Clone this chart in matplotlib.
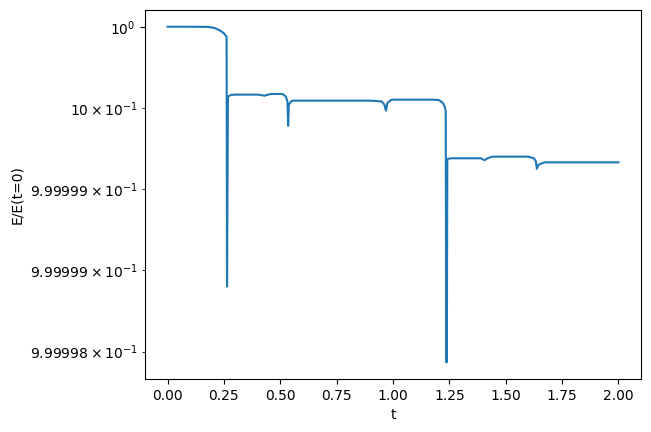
import numpy as np
import matplotlib
matplotlib.use("Agg")
import matplotlib.pyplot as plt

## energie relative
t = [0.00, 0.10, 0.18, 0.21, 0.235, 0.25, 0.258, 0.262, 0.264, 0.268,
     0.28, 0.30, 0.40, 0.42, 0.43, 0.44, 0.46, 0.51, 0.525, 0.532,
     0.535, 0.538, 0.55, 0.56, 0.90, 0.95, 0.962, 0.969, 0.975, 0.99,
     1.00, 1.18, 1.205, 1.222, 1.23, 1.234, 1.236, 1.239, 1.241, 1.26,
     1.39, 1.406, 1.42, 1.44, 1.60, 1.625, 1.634, 1.638, 1.645, 1.672,
     2.00]
E = [1.0, 1.0, 0.999999999, 0.999999992, 0.999999975, 0.99999996, 0.999999945, 0.99999994, 0.9999984, 0.999999569,
     0.99999958, 0.999999582, 0.999999582, 0.999999578, 0.999999575, 0.99999958, 0.999999586, 0.999999586, 0.99999957, 0.99999954,
     0.99999939, 0.99999952, 0.999999543, 0.999999545, 0.999999545, 0.99999954, 0.99999952, 0.999999483, 0.99999953, 0.999999548,
     0.999999551, 0.999999551, 0.999999548, 0.99999953, 0.999999505, 0.99999948, 0.999997934, 0.999997934, 0.999999186, 0.99999919,
     0.99999919, 0.999999178, 0.99999919, 0.9999992, 0.9999992, 0.99999919, 0.99999917, 0.999999125, 0.99999915, 0.999999165,
     0.999999165]

fig, ax = plt.subplots(figsize=(6.51, 4.32), dpi=100)
fig.subplots_adjust(left=0.2227, right=0.9846, top=0.9769, bottom=0.1227)
ax.plot(t, E)
ax.set_yscale('log')
ax.set_xlabel('t')
ax.set_ylabel('E/E(t=0)')

fig.savefig('out.png', dpi=100)
